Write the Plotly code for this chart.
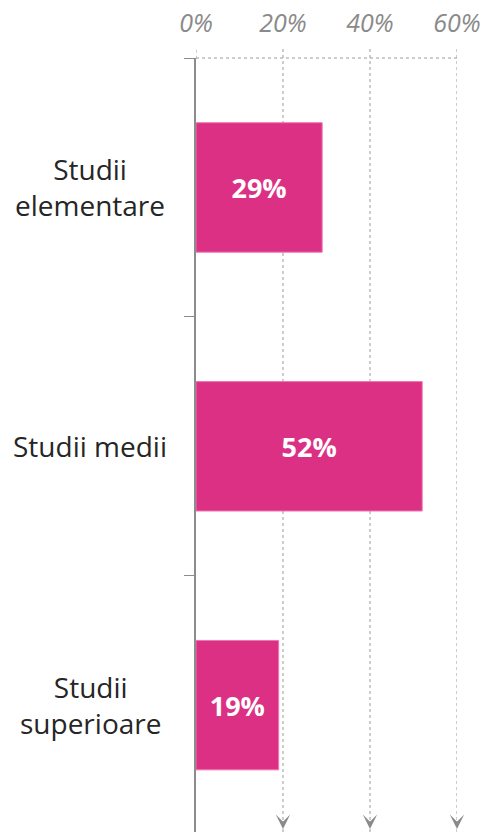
import plotly.graph_objects as go

# data
categories = ["Studii elementare", "Studii medii", "Studii superioare"]
label_lines = ["Studii<br>elementare", "Studii medii", "Studii<br>superioare"]
shares = [29, 52, 19]
x_ticks = [0, 20, 40, 60]
x_tick_labels = ["0%", "20%", "40%", "60%"]

BAR_COLOR = "#DC3085"
GRID_COLOR = "#9a9a9a"
AXIS_COLOR = "#8c8c8c"
FONT = "Open Sans"

fig = go.Figure(
    go.Bar(
        y=categories,
        x=shares,
        orientation="h",
        width=0.5,
        marker=dict(color=BAR_COLOR, line=dict(color="#EE74AE", width=1)),
        text=[f"<b>{v}%</b>" for v in shares],
        textposition="inside",
        insidetextanchor="middle",
        textangle=0,
        constraintext="none",
        textfont=dict(family=FONT, size=27, color="white"),
        hoverinfo="skip",
    )
)

# dotted gridlines, with a short stub above the top border
for xv in x_ticks:
    fig.add_shape(type="line", xref="x", yref="paper",
                  x0=xv, x1=xv, y0=0 if xv else 0.999, y1=1.012,
                  line=dict(color=GRID_COLOR, width=1, dash="dot"),
                  layer="below")
# dotted top border
fig.add_shape(type="line", xref="x", yref="paper",
              x0=x_ticks[0], x1=x_ticks[-1], y0=1, y1=1,
              line=dict(color=GRID_COLOR, width=1, dash="dot"),
              layer="below")

# small arrow heads at the foot of the gridlines
for xv in x_ticks[1:]:
    fig.add_annotation(x=xv, y=0, xref="x", yref="paper", text="",
                       showarrow=True, ax=0, ay=-10, arrowhead=3,
                       arrowsize=2.4, arrowwidth=1, arrowcolor="#8a8a8a",
                       standoff=2)

# category labels, centred as in the reference
for cat, txt in zip(categories, label_lines):
    fig.add_annotation(x=0, y=cat, xref="paper", yref="y", text=txt,
                       xshift=-106, showarrow=False,
                       xanchor="center", yanchor="middle", align="center",
                       font=dict(family=FONT, size=28, color="#262626"))

fig.update_layout(
    width=483,
    height=832,
    margin=dict(l=196, r=26, t=58, b=0),
    plot_bgcolor="white",
    paper_bgcolor="white",
    showlegend=False,
    xaxis=dict(
        side="top",
        range=[0, 60],
        tickvals=x_ticks,
        ticktext=[f"<i>{t}</i>" for t in x_tick_labels],
        tickfont=dict(family=FONT, size=25, color="#8a8a8a"),
        showgrid=False,
        zeroline=False,
        showline=False,
        ticks="",
        ticklabelstandoff=20,
        automargin=False,
        fixedrange=True,
    ),
    yaxis=dict(
        type="category",
        categoryarray=categories,
        range=[2.49, -0.5],
        showticklabels=False,
        showgrid=False,
        showline=True,
        linecolor=AXIS_COLOR,
        linewidth=1.5,
        ticks="outside",
        tickson="boundaries",
        ticklen=10,
        tickcolor=AXIS_COLOR,
        tickwidth=1,
        automargin=False,
        fixedrange=True,
    ),
)

# drop the browser's default body margin so the figure sits at the page corner
fig.write_html("out.html", config={"displayModeBar": False},
               post_script="document.body.style.margin = '0';")
